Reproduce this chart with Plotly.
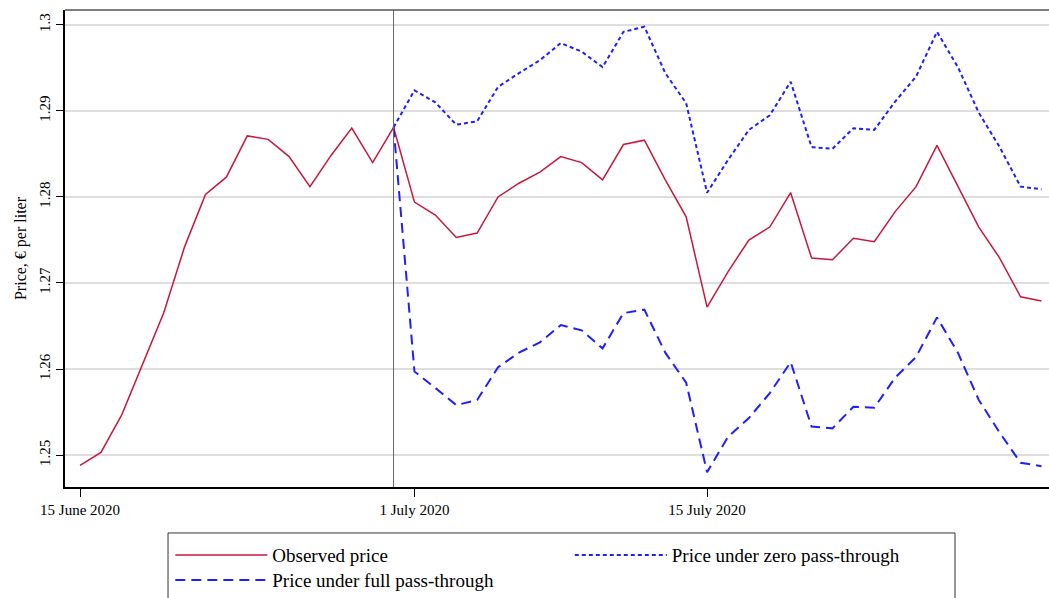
import pandas as pd
import plotly.graph_objects as go

dates = pd.date_range("2020-06-15", "2020-07-31", freq="D")

observed = [1.2488, 1.2503, 1.2547, 1.2607, 1.2665, 1.2742, 1.2803, 1.2823,
            1.2871, 1.2867, 1.2847, 1.2812, 1.2848, 1.2880, 1.2840, 1.2881,
            1.2794, 1.2779, 1.2753, 1.2758, 1.2800, 1.2816, 1.2829, 1.2847,
            1.2840, 1.2820, 1.2861, 1.2866, 1.2820, 1.2777, 1.2672, 1.2713,
            1.2750, 1.2765, 1.2805, 1.2729, 1.2727, 1.2752, 1.2748, 1.2783,
            1.2812, 1.2860, 1.2812, 1.2765, 1.2729, 1.2684, 1.2679]

zero_pt = [None] * 15 + [1.2881,
           1.2924, 1.2910, 1.2884, 1.2888, 1.2928, 1.2944, 1.2959, 1.2979,
           1.2969, 1.2951, 1.2992, 1.2998, 1.2944, 1.2909, 1.2805, 1.2843,
           1.2878, 1.2895, 1.2934, 1.2858, 1.2856, 1.2880, 1.2878, 1.2911,
           1.2940, 1.2992, 1.2951, 1.2898, 1.2858, 1.2812, 1.2809]

full_pt = [None] * 15 + [1.2881,
           1.2597, 1.2578, 1.2558, 1.2564, 1.2602, 1.2619, 1.2631, 1.2651,
           1.2645, 1.2624, 1.2665, 1.2669, 1.2619, 1.2584, 1.2480, 1.2521,
           1.2543, 1.2572, 1.2608, 1.2533, 1.2531, 1.2556, 1.2555, 1.2590,
           1.2614, 1.2660, 1.2619, 1.2564, 1.2526, 1.2491, 1.2487]

x_tickvals = ["2020-06-15", "2020-07-01", "2020-07-15"]
x_ticktext = ["15 June 2020", "1 July 2020", "15 July 2020"]
y_tickvals = [1.25, 1.26, 1.27, 1.28, 1.29, 1.30]
y_ticktext = ["1.25", "1.26", "1.27", "1.28", "1.29", "1.3"]
event_date = "2020-06-30"

SERIF = "Liberation Serif"
RED = "#c8173c"
BLUE = "#1f1fff"

fig = go.Figure()
fig.add_trace(go.Scatter(x=dates, y=observed, mode="lines", name="Observed price",
                         line=dict(color=RED, width=1.5), legend="legend"))
fig.add_trace(go.Scatter(x=dates, y=zero_pt, mode="lines", name="Price under zero pass-through",
                         line=dict(color=BLUE, width=2, dash="4px,3px"), legend="legend2"))
fig.add_trace(go.Scatter(x=dates, y=full_pt, mode="lines", name="Price under full pass-through",
                         line=dict(color=BLUE, width=2, dash="10px,6px"), legend="legend3"))

fig.add_shape(type="line", xref="x", yref="paper", x0=event_date, x1=event_date,
              y0=0, y1=1, line=dict(color="#666666", width=1))
fig.add_shape(type="line", xref="paper", yref="paper", x0=0, x1=1, y0=1, y1=1,
              line=dict(color="#555555", width=1.5))
# legend frame
fig.add_shape(type="rect", xref="paper", yref="paper", x0=0.1047, x1=0.9045,
              y0=-0.30, y1=-0.0964, line=dict(color="#333333", width=1),
              fillcolor="rgba(0,0,0,0)")

leg_common = dict(orientation="v", yanchor="top", xanchor="left",
                  itemwidth=92, borderwidth=0, bgcolor="rgba(0,0,0,0)",
                  font=dict(family=SERIF, size=19))

fig.update_layout(
    width=1049, height=598,
    margin=dict(l=65, r=0, t=10, b=111, autoexpand=False),
    paper_bgcolor="white", plot_bgcolor="white",
    font=dict(family=SERIF, color="black", size=14),
    showlegend=True,
    legend=dict(x=0.107, y=-0.103, **leg_common),
    legend2=dict(x=0.513, y=-0.103, **leg_common),
    legend3=dict(x=0.107, y=-0.1555, **leg_common),
    xaxis=dict(range=["2020-06-14 06:43", "2020-07-31 08:38"],
               tickvals=x_tickvals, ticktext=x_ticktext, automargin=False,
               showgrid=False, zeroline=False,
               showline=True, linecolor="black", linewidth=2,
               ticks="outside", ticklen=8, tickcolor="black",
               tickfont=dict(family=SERIF, size=15)),
    yaxis=dict(range=[1.24628, 1.30174], automargin=False,
               tickvals=y_tickvals, ticktext=y_ticktext, tickangle=-90,
               showgrid=True, gridcolor="#dedede", gridwidth=2, zeroline=False,
               showline=True, linecolor="black", linewidth=2,
               ticks="outside", ticklen=7, tickcolor="black",
               tickfont=dict(family=SERIF, size=15),
               title=dict(text="Price, € per liter", font=dict(family=SERIF, size=16),
                          standoff=6)),
)

fig.write_html("out.html", config={"displayModeBar": False},
               post_script="document.body.style.margin='0';document.body.style.padding='0';")
